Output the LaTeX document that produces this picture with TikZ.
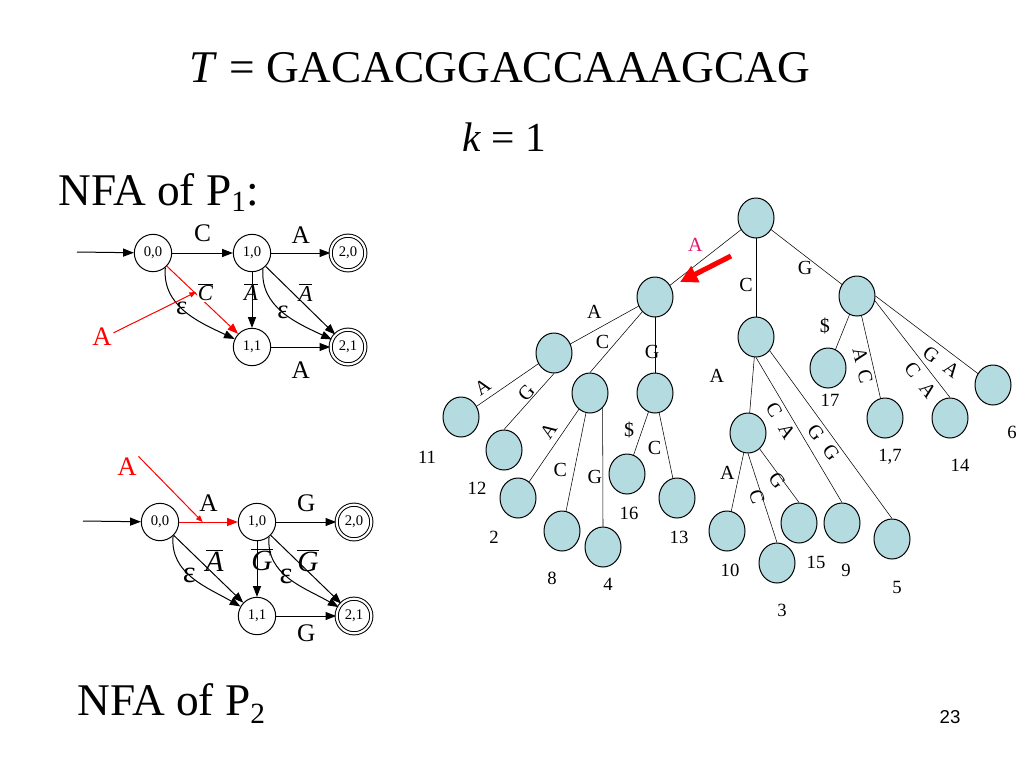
\documentclass[tikz,border=0pt]{standalone}
\usepackage{fontspec}
\setmainfont{Liberation Serif}
\setsansfont{Liberation Sans}
\usetikzlibrary{arrows.meta,shapes.geometric,backgrounds}
\definecolor{treeB}{RGB}{180,219,223}
\definecolor{hlM}{RGB}{230,20,110}
\newcommand\nbar[1]{$\overline{\mbox{\itshape #1}}$}
\newcommand\edgepair[3][8.5pt]{#2\hspace{#1}#3}

\begin{document}
\begin{tikzpicture}[x=0.75pt,y=-0.75pt,line width=0.75pt,>={Triangle[length=8pt,width=6pt]},
  st/.style={circle,draw,minimum size=28pt,inner sep=0pt,font=\fontsize{11}{11}\selectfont},
  acc/.style={st,double,double distance=1.6pt,minimum size=26pt},
  tn/.style={ellipse,draw,fill=treeB,minimum width=27pt,minimum height=30pt,inner sep=0pt},
  lb/.style={font=\fontsize{19}{19}\selectfont,inner sep=1pt},
  bl/.style={font=\fontsize{17}{17}\selectfont,inner sep=1pt},
  bl2/.style={font=\fontsize{22}{22}\selectfont,inner sep=1pt},
  eps/.style={font=\fontsize{20}{20}\selectfont,inner sep=0pt},
  eps2/.style={font=\fontsize{23}{23}\selectfont,inner sep=0pt},
  ra/.style={text=red,font=\fontsize{20}{20}\selectfont,inner sep=1pt},
  tl/.style={font=\fontsize{15}{15}\selectfont,inner sep=1pt},
  num/.style={font=\fontsize{14}{14}\selectfont,inner sep=0pt},
  tedge/.style={line width=0.7pt}]
\begin{scope}[on background layer]
\fill[white] (0,0) rectangle (1024,768);
\end{scope}
\useasboundingbox (0,0) rectangle (1024,768);
% headings
\node[anchor=base,inner sep=0pt,font=\fontsize{34}{34}\selectfont] (ttl) at (500,82) {\textit{T} = GACACGGACCAAAGCAG};
\node[anchor=base,inner sep=0pt,font=\fontsize{31}{31}\selectfont] (kval) at (504,151) {\textit{k} = 1};
\node[anchor=base west,inner sep=0pt,font=\fontsize{34}{34}\selectfont] (cap1) at (58,205) {NFA of P\raisebox{-5pt}{\fontsize{22}{22}\selectfont 1}:};
\node[anchor=base west,inner sep=0pt,font=\fontsize{34}{34}\selectfont] (cap2) at (77,715) {NFA of P\raisebox{-6pt}{\fontsize{22}{22}\selectfont 2}};
\node[font=\sffamily\fontsize{14}{14}\selectfont] (pgno) at (950,717) {23};

% NFA of P1
\node[st] (p00) at (153,253) {0,0};
\node[st] (p10) at (252,253) {1,0};
\node[acc] (p20) at (348,253) {2,0};
\node[st] (p11) at (252,347) {1,1};
\node[acc] (p21) at (348,347) {2,1};
\coordinate (in1) at (77,252);
\draw[->] (in1) -- (p00);
\draw[->] (p00) -- node[lb,pos=.5,shift={(0,-20)}]{C} (p10);
\draw[->] (p10) -- node[lb,pos=.5,shift={(0,-18)}]{A} (p20);
\draw[->] (p11) -- node[lb,pos=.5,shift={(0,23)}]{A} (p21);
\draw[->] (p10) -- node[bl,pos=.5,shift={(-1,-8)}]{\nbar{A}} (p11);
\draw[->] (p10) -- node[bl,pos=.5,shift={(5,-8)}]{\nbar{A}} (p21);
\draw[->] (p00.-50) to[out=-95,in=155] node[eps,pos=.45]{ε} (p11);
\draw[->] (p10.-55) to[out=-95,in=155] node[eps,pos=.5]{ε} (p21);
\draw[->,red] (p00) -- node[bl,fill=white,text=black,pos=.5,shift={(3,-8)}] (cb1) {\nbar{C}} (p11);
\node[ra] (ra1) at (102,337) {A};
\draw[-{Triangle[length=5pt,width=4pt]},red] (ra1.20) -- (cb1.west);

% NFA of P2
\node[st] (q00) at (160,522) {0,0};
\node[st] (q10) at (257,522) {1,0};
\node[acc] (q20) at (354,522) {2,0};
\node[st] (q11) at (257,616) {1,1};
\node[acc] (q21) at (354,616) {2,1};
\coordinate (in2) at (83,521);
\draw[->] (in2) -- (q00);
\draw[->,red] (q00) -- coordinate[pos=.4] (hit2) node[lb,pos=.5,shift={(0,-19)},text=black]{A} (q10);
\draw[->] (q10) -- node[lb,pos=.5,shift={(0,-19)}]{G} (q20);
\draw[->] (q11) -- node[lb,pos=.5,shift={(0,17)}]{G} (q21);
\draw[->] (q00) -- node[bl2,pos=.5,shift={(6,-9)}]{\nbar{A}} (q11);
\draw[->] (q10) -- node[bl2,pos=.5,shift={(5,-9)}]{\nbar{G}} (q11);
\draw[->] (q10) -- node[bl2,pos=.5,shift={(2,-9)}]{\nbar{G}} (q21);
\draw[->] (q00.-47) to[out=-95,in=150] node[eps2,pos=.45]{ε} (q11);
\draw[->] (q10.-51) to[out=-95,in=150] node[eps2,pos=.45]{ε} (q21);
\node[ra] (ra2) at (127,467) {A};
\draw[-{Triangle[length=5pt,width=4pt]},red] (ra2.north east) -- (hit2);

% suffix tree
\node[tn] (root) at (756,218) {};
\node[tn] (tA) at (655,297) {};
\node[tn] (tAA) at (554,353) {};
\node[tn] (tAC) at (590,393) {};
\node[tn] (tAG) at (655,393) {};
\node[tn] (tC) at (756,337) {};
\node[tn] (tCA) at (748,433) {};
\node[tn] (tG) at (857,296) {};
\node[tn] (s11) at (461,417) {};
\node[tn] (s12) at (504,450) {};
\node[tn] (s2) at (518,498) {};
\node[tn] (s8) at (562,531) {};
\node[tn] (s4) at (603,547) {};
\node[tn] (s16) at (627,474) {};
\node[tn] (s13) at (677,498) {};
\node[tn] (s10) at (727,531) {};
\node[tn] (s3) at (777,563) {};
\node[tn] (s15) at (799,523) {};
\node[tn] (s9) at (842,523) {};
\node[tn] (s5) at (892,539) {};
\node[tn] (s17) at (828,368) {};
\node[tn] (s1) at (885,418) {};
\node[tn] (s14) at (950,418) {};
\node[tn] (s6) at (993,385) {};
\begin{scope}[on background layer,tedge]
\draw (root.center) -- node[tl,pos=.6,shift={(0,-21)},text=hlM]{A} (tA.center);
\draw (root.center) -- node[tl,pos=.56,shift={(-10,0)}]{C} (tC.center);
\draw (root.center) -- node[tl,pos=.485,shift={(0,12)}]{G} (tG.center);
\draw (tA.center) -- node[tl,pos=.6,shift={(0,-19)}]{A} (tAA.center);
\draw (tA.center) -- node[tl,pos=.59,shift={(-14,0)}]{C} (tAC.north);
\draw (tA.center) -- node[tl,pos=.57,shift={(-3,0)}]{G} (tAG.center);
\draw (tAA.center) -- node[tl,pos=.69,sloped,above=3.5pt]{A} (s11.center);
\draw (tAA.south) -- node[tl,pos=.44,sloped,above=-0.5pt]{G} (s12.north);
\draw (tAC.center) -- node[tl,pos=.43,sloped,above=3.5pt]{A} (s2.center);
\draw (tAC.center) -- node[tl,pos=.56,shift={(-14,0)}]{C} (s8.center);
\draw (tAC.-50) -- node[tl,pos=.58,shift={(-8,0)}]{G} (s4.north);
\draw (tAG.center) -- node[tl,pos=.46,shift={(-13,0)}]{\$} (s16.center);
\draw (tAG.center) -- node[tl,pos=.52,shift={(-12,0)}]{C} (s13.center);
\draw (tC.center) -- node[tl,pos=.41,shift={(-36,0)}]{A} (tCA.center);
\draw (tC.south) -- node[tl,pos=.4,sloped,below=2.2pt]{\edgepair{C}{A}} (s9.north);
\draw (tC.-45) -- node[tl,pos=.51,sloped,below=1.7pt]{\edgepair{G}{G}} (s5.north);
\draw (tCA.center) -- node[tl,pos=.41,shift={(-12,0)}]{A} (s10.center);
\draw (tCA.south) -- node[tl,pos=.47,sloped,below=-2.5pt]{C} (s3.north);
\draw (tCA.center) -- node[tl,pos=.64,sloped,below=-3pt]{G} (s15.north);
\draw (tG.center) -- node[tl,pos=.42,shift={(-20,0)}]{\$} (s17.center);
\draw (tG.center) -- node[tl,pos=.55,sloped,below=1.2pt]{\edgepair[6pt]{A}{C}} (s1.center);
\draw (tG.-15) -- node[tl,pos=.74,sloped,below=3.3pt]{\edgepair{C}{A}} (s14.north);
\draw (tG.east) -- node[tl,pos=.627,sloped,below=3.4pt]{\edgepair{G}{A}} (s6.center);
\end{scope}
% leaf numbers
\node[num] (l11) at (427,457) {11};
\node[num] (l12) at (477,488) {12};
\node[num] (l2) at (494,537) {2};
\node[num] (l8) at (552,578) {8};
\node[num] (l4) at (608,584) {4};
\node[num] (l16) at (629,513) {16};
\node[num] (l13) at (679,537) {13};
\node[num] (l10) at (730,570) {10};
\node[num] (l3) at (782,610) {3};
\node[num] (l15) at (816,562) {15};
\node[num] (l9) at (846,570) {9};
\node[num] (l5) at (897,587) {5};
\node[num] (l17) at (830,400) {17};
\node[num] (l1) at (890,457) {1,7};
\node[num] (l14) at (960,465) {14};
\node[num] (l6) at (1012,432) {6};
% search pointer
\coordinate (rp1) at (731,256);
\coordinate (rp2) at (680,282);
\draw[red,line width=3.8pt,-{Triangle[length=13pt,width=13pt]}] (rp1) -- (rp2);
\end{tikzpicture}
\end{document}
